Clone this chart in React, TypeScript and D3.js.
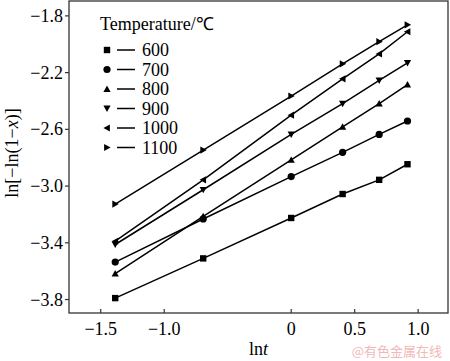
import React from "react";
import * as d3 from "d3";

const lnT = [-1.386, -0.693, 0, 0.405, 0.693, 0.916];
const temps = ["600", "700", "800", "900", "1000", "1100"];
const s600 = [-3.79, -3.51, -3.225, -3.056, -2.956, -2.846];
const s700 = [-3.536, -3.232, -2.933, -2.762, -2.636, -2.541];
const s800 = [-3.617, -3.213, -2.816, -2.583, -2.419, -2.284];
const s900 = [-3.412, -3.026, -2.636, -2.419, -2.255, -2.131];
const s1000 = [-3.389, -2.956, -2.5, -2.244, -2.068, -1.912];
const s1100 = [-3.127, -2.746, -2.365, -2.138, -1.982, -1.863];
const seriesValues = [s600, s700, s800, s900, s1000, s1100];
const markerTypes = ["square", "circle", "up", "down", "left", "right"];
const xTicks = [-1.5, -1.0, 0, 0.5, 1.0];
const yTicks = [-1.8, -2.2, -2.6, -3.0, -3.4, -3.8];

const W = 450, H = 361;
const L = 69, R = 448, T = 1, B = 313;
const FONT = "Liberation Serif, Times New Roman, serif";

const x = d3.scaleLinear().domain([-1.75, 1.235]).range([L, R]);
const y = d3.scaleLinear().domain([-3.895, -1.695]).range([B, T]);

function Marker({ type, cx, cy }: { type: string; cx: number; cy: number }) {
  const s = 3.6;
  if (type === "square") return <rect x={cx - 3.2} y={cy - 3.2} width={6.4} height={6.4} fill="#000" />;
  if (type === "circle") return <circle cx={cx} cy={cy} r={3.6} fill="#000" />;
  let pts: [number, number][] = [];
  if (type === "up") pts = [[cx, cy - s], [cx + s, cy + s * 0.8], [cx - s, cy + s * 0.8]];
  if (type === "down") pts = [[cx, cy + s], [cx + s, cy - s * 0.8], [cx - s, cy - s * 0.8]];
  if (type === "left") pts = [[cx - s, cy], [cx + s * 0.8, cy - s], [cx + s * 0.8, cy + s]];
  if (type === "right") pts = [[cx + s, cy], [cx - s * 0.8, cy - s], [cx - s * 0.8, cy + s]];
  return <polygon points={pts.map((p) => p.join(",")).join(" ")} fill="#000" />;
}

export default function App() {
  const line = d3
    .line<[number, number]>()
    .x((d) => x(d[0]))
    .y((d) => y(d[1]));
  const fmt = (v: number) => (v === 0 ? "0" : d3.format(".1f")(v).replace("-", "\u2212"));
  return (
    <svg width={W} height={H} style={{ position: "absolute", left: 0, top: 0, background: "#fff", fontFamily: FONT }}>
      <rect x={0} y={0} width={W} height={H} fill="#fff" />
      {seriesValues.map((vals, i) => (
        <g key={i}>
          <path d={line(vals.map((v, j) => [lnT[j], v]) as [number, number][]) || ""} fill="none" stroke="#000" strokeWidth={1.5} />
          {vals.map((v, j) => (
            <Marker key={j} type={markerTypes[i]} cx={x(lnT[j])} cy={y(v)} />
          ))}
        </g>
      ))}
      <rect x={L} y={T} width={R - L} height={B - T} fill="none" stroke="#333" strokeWidth={1.3} />
      {xTicks.map((t) => (
        <g key={t}>
          <line x1={x(t)} x2={x(t)} y1={B} y2={B - 4} stroke="#333" strokeWidth={1.2} />
          <text x={x(t)} y={335} textAnchor="middle" fontSize={18} fill="#000">{fmt(t)}</text>
        </g>
      ))}
      {yTicks.map((t) => (
        <g key={t}>
          <line x1={L - 4} x2={L} y1={y(t)} y2={y(t)} stroke="#333" strokeWidth={1.2} />
          <text x={63} y={y(t) + 6} textAnchor="end" fontSize={18} fill="#000">{fmt(t)}</text>
        </g>
      ))}
      <text x={(L + R) / 2} y={355} textAnchor="middle" fontSize={18} fill="#000">
        ln<tspan fontStyle="italic">t</tspan>
      </text>
      <text transform={`translate(18,153) rotate(-90)`} textAnchor="middle" fontSize={18} fill="#000">
        ln[−ln(1−<tspan fontStyle="italic">x</tspan>)]
      </text>
      <text x={100} y={30} fontSize={18} fill="#000">Temperature/℃</text>
      {temps.map((tp, i) => {
        const cy = 50 + i * 19.5;
        return (
          <g key={tp}>
            <Marker type={markerTypes[i]} cx={107} cy={cy} />
            <line x1={117} x2={135} y1={cy} y2={cy} stroke="#000" strokeWidth={1.5} />
            <text x={142} y={cy + 6} fontSize={18} fill="#000">{tp}</text>
          </g>
        );
      })}
      <text x={442} y={356} textAnchor="end" fontSize={13} fill="#f2b8b8" style={{ fontFamily: "Noto Sans CJK SC, sans-serif" }}>
        @有色金属在线
      </text>
    </svg>
  );
}
